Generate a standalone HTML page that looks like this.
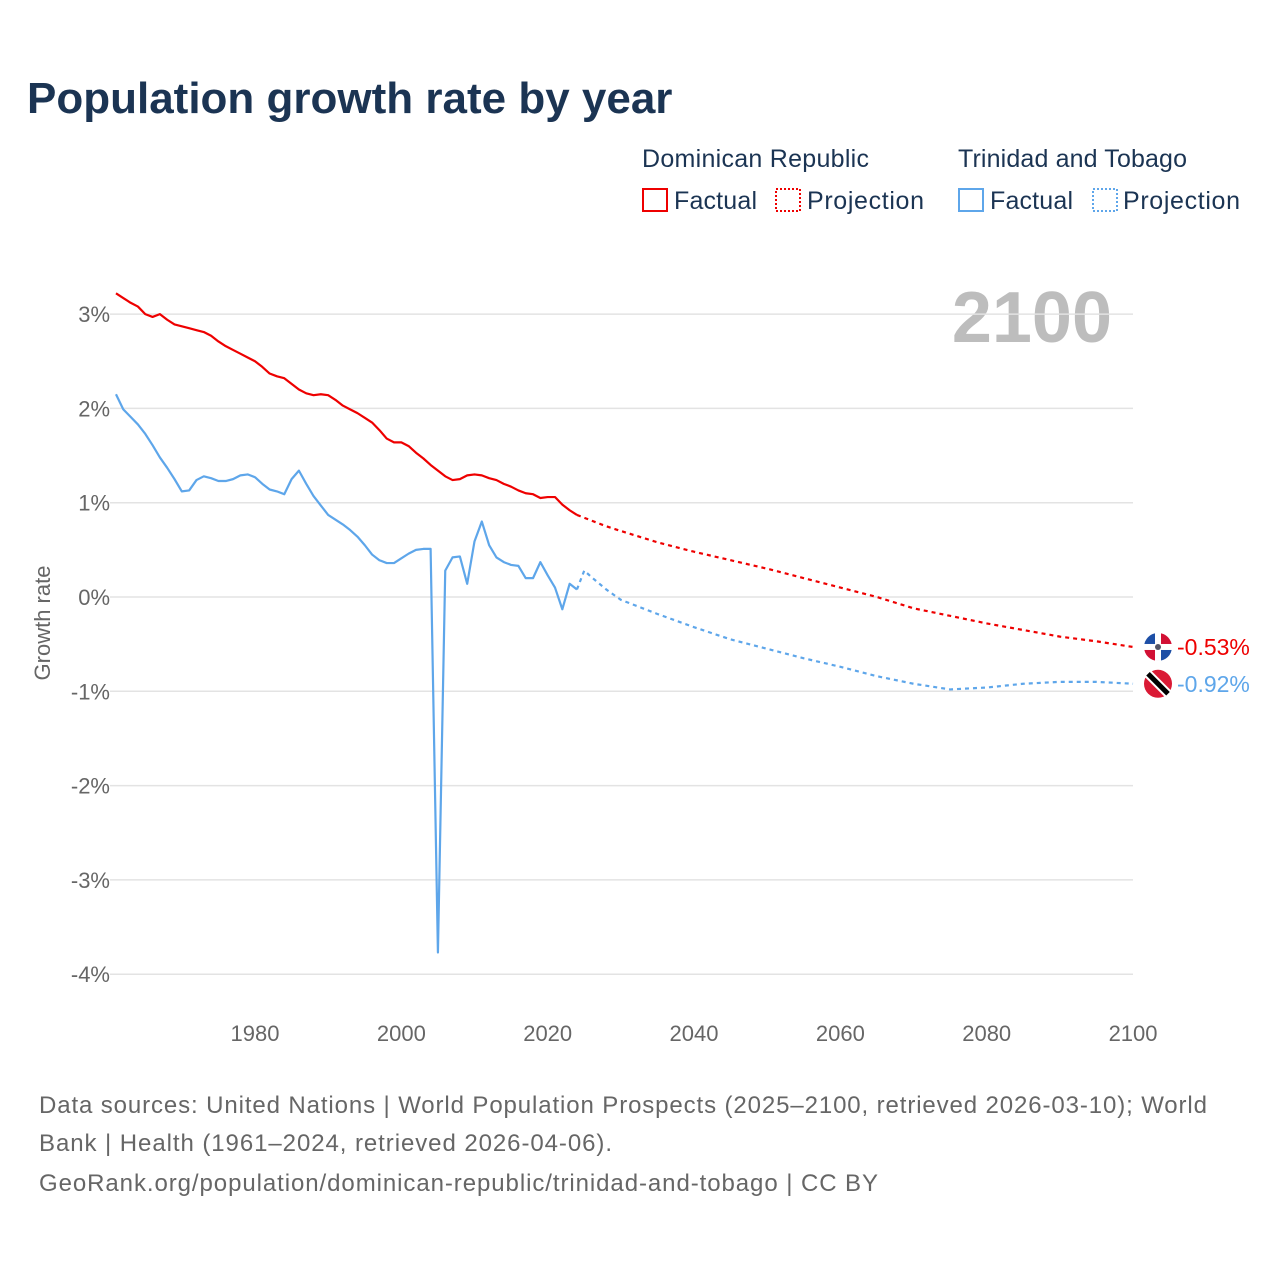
<!DOCTYPE html>
<html><head><meta charset="utf-8"><style>
body{margin:0;background:#fff;font-family:"Liberation Sans",sans-serif;}
#wrap{position:relative;width:1280px;height:1280px;overflow:hidden}
</style></head><body>
<div id="wrap">
<svg id="chart" width="1280" height="1280">
<text x="27" y="113" font-size="44" font-weight="bold" fill="#1b3453">Population growth rate by year</text>
<g font-size="25" fill="#1b3453">
<text x="642" y="167" textLength="227" lengthAdjust="spacing">Dominican Republic</text>
<text x="958" y="167" textLength="229" lengthAdjust="spacing">Trinidad and Tobago</text>
<rect x="643" y="189" width="24" height="22" fill="none" stroke="#ee0000" stroke-width="2"/>
<text x="674" y="209" textLength="83" lengthAdjust="spacing">Factual</text>
<rect x="776" y="189" width="24" height="22" fill="none" stroke="#ee0000" stroke-width="2" stroke-dasharray="2,2"/>
<text x="807" y="209" textLength="117" lengthAdjust="spacing">Projection</text>
<rect x="959" y="189" width="24" height="22" fill="none" stroke="#5ea6ea" stroke-width="2"/>
<text x="990" y="209" textLength="83" lengthAdjust="spacing">Factual</text>
<rect x="1093" y="189" width="24" height="22" fill="none" stroke="#5ea6ea" stroke-width="2" stroke-dasharray="2,2"/>
<text x="1123" y="209" textLength="117" lengthAdjust="spacing">Projection</text>
</g>
<text x="1112" y="342" font-size="72" font-weight="bold" fill="#bdbdbd" text-anchor="end">2100</text>
<text transform="translate(50,623) rotate(-90)" font-size="22" fill="#666" text-anchor="middle">Growth rate</text>
<g id="grid"></g><g id="marks"></g>
<g font-size="24" fill="#666">
<text x="39" y="1113" textLength="1168" lengthAdjust="spacing">Data sources: United Nations | World Population Prospects (2025–2100, retrieved 2026-03-10); World</text>
<text x="39" y="1151" textLength="573" lengthAdjust="spacing">Bank | Health (1961–2024, retrieved 2026-04-06).</text>
<text x="39" y="1191" textLength="839" lengthAdjust="spacing">GeoRank.org/population/dominican-republic/trinidad-and-tobago | CC BY</text>
</g>
</svg></div>
<script>
const yTicks=[3,2,1,0,-1,-2,-3,-4];
const yTickLabels=["3%","2%","1%","0%","-1%","-2%","-3%","-4%"];
const xTicks=[1980,2000,2020,2040,2060,2080,2100];
const drFactualYears=[1961,1962,1963,1964,1965,1966,1967,1968,1969,1970,1971,1972,1973,1974,1975,1976,1977,1978,1979,1980,1981,1982,1983,1984,1985,1986,1987,1988,1989,1990,1991,1992,1993,1994,1995,1996,1997,1998,1999,2000,2001,2002,2003,2004,2005,2006,2007,2008,2009,2010,2011,2012,2013,2014,2015,2016,2017,2018,2019,2020,2021,2022,2023,2024];
const drFactual=[3.22,3.17,3.12,3.08,3.00,2.97,3.00,2.94,2.89,2.87,2.85,2.83,2.81,2.77,2.71,2.66,2.62,2.58,2.54,2.50,2.44,2.37,2.34,2.32,2.26,2.20,2.16,2.14,2.15,2.14,2.09,2.03,1.99,1.95,1.90,1.85,1.77,1.68,1.64,1.64,1.60,1.53,1.47,1.40,1.34,1.28,1.24,1.25,1.29,1.30,1.29,1.26,1.24,1.20,1.17,1.13,1.10,1.09,1.05,1.06,1.06,0.98,0.92,0.87];
const ttFactual=[2.15,1.99,1.91,1.83,1.73,1.61,1.48,1.37,1.25,1.12,1.13,1.24,1.28,1.26,1.23,1.23,1.25,1.29,1.30,1.27,1.20,1.14,1.12,1.09,1.25,1.34,1.20,1.07,0.97,0.87,0.82,0.77,0.71,0.64,0.55,0.45,0.39,0.36,0.36,0.41,0.46,0.50,0.51,0.51,-3.77,0.28,0.42,0.43,0.14,0.59,0.80,0.55,0.42,0.37,0.34,0.33,0.20,0.20,0.37,0.23,0.10,-0.13,0.14,0.08];
const projYears=[2024,2025,2026,2028,2030,2035,2040,2045,2050,2055,2060,2065,2070,2075,2080,2085,2090,2095,2100];
const drProj=[0.87,0.84,0.81,0.75,0.70,0.58,0.48,0.39,0.30,0.20,0.10,0.00,-0.12,-0.20,-0.28,-0.35,-0.42,-0.47,-0.53];
const ttProj=[0.08,0.28,0.21,0.08,-0.03,-0.18,-0.32,-0.45,-0.55,-0.65,-0.74,-0.84,-0.92,-0.98,-0.96,-0.92,-0.90,-0.90,-0.92];
const X=y=>255+(y-1980)*7.317, Y=v=>597-v*94.3;
const NS="http://www.w3.org/2000/svg";
const grid=document.getElementById('grid'), marks=document.getElementById('marks');
function mk(tag,attrs,parent){const e=document.createElementNS(NS,tag);for(const k in attrs)e.setAttribute(k,attrs[k]);parent.appendChild(e);return e;}
yTicks.forEach((t,i)=>{
 const l=mk('line',{x1:110,x2:1133,y1:Y(t),y2:Y(t),stroke:'#e3e3e3','stroke-width':1.5},grid);
 
 
 const tx=mk('text',{x:110,y:Y(t)+8,'font-size':22,fill:'#666','text-anchor':'end'},grid);
 tx.textContent=yTickLabels[i];
 
 
});
xTicks.forEach(t=>{
 const tx=mk('text',{x:X(t),y:1041,'font-size':22,fill:'#666','text-anchor':'middle'},grid);
 tx.textContent=t;
 
 
});
function line(xs,vs,color,dash,name){
 const p=mk('polyline',{points:xs.map((y,i)=>X(y)+','+Y(vs[i])).join(' '),fill:'none',stroke:color,'stroke-width':2.2,'stroke-linejoin':'round'},marks);
 if(dash)p.setAttribute('stroke-dasharray','4,4');
 
 
}
line(drFactualYears,drFactual,'#ee0000',false,'dr-factual-line');
line(projYears,drProj,'#ee0000',true,'dr-projection-line');
line(drFactualYears,ttFactual,'#5ea6ea',false,'tt-factual-line');
line(projYears,ttProj,'#5ea6ea',true,'tt-projection-line');
const dy=Y(drProj[drProj.length-1]), ty=Y(ttProj[ttProj.length-1]);
const g1=mk('g',{},marks);


mk('circle',{cx:1158,cy:dy,r:14,fill:'#fff'},g1);
mk('path',{d:`M1158 ${dy} L1158 ${dy-14} A14 14 0 0 0 1144 ${dy} Z`,fill:'#1d4fa6'},g1);
mk('path',{d:`M1158 ${dy} L1158 ${dy+14} A14 14 0 0 0 1172 ${dy} Z`,fill:'#1d4fa6'},g1);
mk('path',{d:`M1158 ${dy} L1172 ${dy} A14 14 0 0 0 1158 ${dy-14} Z`,fill:'#d21034'},g1);
mk('path',{d:`M1158 ${dy} L1144 ${dy} A14 14 0 0 0 1158 ${dy+14} Z`,fill:'#d21034'},g1);
mk('rect',{x:1155,y:dy-14,width:6,height:28,fill:'#fff'},g1);
mk('rect',{x:1144,y:dy-3,width:28,height:6,fill:'#fff'},g1);
mk('circle',{cx:1158,cy:dy,r:3,fill:'#556'},g1);
const g2=mk('g',{},marks);


mk('circle',{cx:1158,cy:ty,r:14,fill:'#da1a35'},g2);
mk('line',{x1:1148,y1:ty-10,x2:1168,y2:ty+10,stroke:'#fff',"stroke-width":9},g2);
mk('line',{x1:1148,y1:ty-10,x2:1168,y2:ty+10,stroke:'#000',"stroke-width":5},g2);
const l1=mk('text',{x:1177,y:dy+8,'font-size':23,fill:'#ee0000'},marks);
l1.textContent=drProj[drProj.length-1].toFixed(2)+'%';


const l2=mk('text',{x:1177,y:ty+8,'font-size':23,fill:'#5ea6ea'},marks);
l2.textContent=ttProj[ttProj.length-1].toFixed(2)+'%';


</script>
</body></html>
